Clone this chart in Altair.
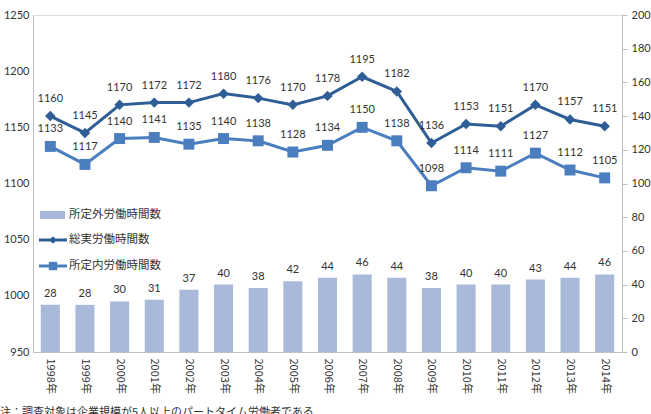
import altair as alt
import pandas as pd

years = [f"{y}年" for y in range(1998, 2015)]
total = [1160, 1145, 1170, 1172, 1172, 1180, 1176, 1170, 1178, 1195, 1182, 1136, 1153, 1151, 1170, 1157, 1151]
scheduled = [1133, 1117, 1140, 1141, 1135, 1140, 1138, 1128, 1134, 1150, 1138, 1098, 1114, 1111, 1127, 1112, 1105]
overtime = [28, 28, 30, 31, 37, 40, 38, 42, 44, 46, 44, 38, 40, 40, 43, 44, 46]

s_over = "所定外労働時間数"
s_total = "総実労働時間数"
s_sched = "所定内労働時間数"
note = "注：調査対象は企業規模が5人以上のパートタイム労働者である"

df = pd.DataFrame({"year": years, "total": total, "scheduled": scheduled, "overtime": overtime})

FONT = "Lato, Noto Sans CJK JP"
JP = "Noto Sans CJK JP"
BAR_C = "#A9B9DA"
TOT_C = "#2F5E97"
SCH_C = "#4A7EBF"
W, H = 589, 337

x = alt.X("year:N", sort=years, title=None,
          scale=alt.Scale(paddingInner=0.45, paddingOuter=0.225),
          axis=alt.Axis(labelAngle=90, labelFont=JP, labelFontSize=11, labelColor="#333",
                        domainColor="#BFBFBF", ticks=False, labelPadding=6, labelAlign="left",
                        labelBaseline="middle"))

yl = alt.Scale(domain=[950, 1250], nice=False, zero=False)
yr = alt.Scale(domain=[0, 200], nice=False)

left_axis = alt.Axis(values=list(range(950, 1251, 50)), format="d", grid=False, ticks=False, domainColor="#BFBFBF",
                     labelFont=FONT, labelFontSize=11, labelColor="#333", labelPadding=4, title=None,
                     orient="left")
right_axis = alt.Axis(values=list(range(0, 201, 20)), format="d", grid=False, orient="right", domainColor="#BFBFBF",
                      tickColor="#BFBFBF", tickSize=5, labelFont=FONT, labelFontSize=11, labelColor="#333",
                      labelPadding=4, title=None)

base = alt.Chart(df)

bars = base.mark_bar(color=BAR_C).encode(x=x, y=alt.Y("overtime:Q", scale=yr, axis=right_axis))
bar_lab = base.mark_text(dy=-11, font=FONT, fontSize=11, color="#333").encode(
    x=x, y=alt.Y("overtime:Q", scale=yr, axis=right_axis), text="overtime:Q")

tot_line = base.mark_line(color=TOT_C, strokeWidth=3).encode(
    x=x, y=alt.Y("total:Q", scale=yl, axis=left_axis))
tot_pts = base.mark_point(shape="diamond", filled=True, size=110, color=TOT_C, opacity=1).encode(
    x=x, y=alt.Y("total:Q", scale=yl, axis=left_axis))
tot_lab = base.mark_text(dy=-17, font=FONT, fontSize=11, color="#333").encode(
    x=x, y=alt.Y("total:Q", scale=yl, axis=left_axis), text="total:Q")

sch_line = base.mark_line(color=SCH_C, strokeWidth=3).encode(
    x=x, y=alt.Y("scheduled:Q", scale=yl, axis=left_axis))
sch_pts = base.mark_point(shape="square", filled=True, size=120, color=SCH_C, opacity=1).encode(
    x=x, y=alt.Y("scheduled:Q", scale=yl, axis=left_axis))
sch_lab = base.mark_text(dy=-17, font=FONT, fontSize=11, color="#333").encode(
    x=x, y=alt.Y("scheduled:Q", scale=yl, axis=left_axis), text="scheduled:Q")

# legend (drawn manually inside the plot area)
one = pd.DataFrame({"a": [0]})
ly = [200, 225, 251]
leg_bar = alt.Chart(one).mark_rect(color=BAR_C).encode(
    x=alt.value(7), x2=alt.value(32), y=alt.value(ly[0] - 4), y2=alt.value(ly[0] + 4))
leg_l1 = alt.Chart(one).mark_rule(color=TOT_C, strokeWidth=3).encode(
    x=alt.value(6), x2=alt.value(34), y=alt.value(ly[1]))
leg_p1 = alt.Chart(one).mark_point(shape="diamond", filled=True, size=55, color=TOT_C, opacity=1).encode(
    x=alt.value(20), y=alt.value(ly[1]))
leg_l2 = alt.Chart(one).mark_rule(color=SCH_C, strokeWidth=3).encode(
    x=alt.value(6), x2=alt.value(34), y=alt.value(ly[2]))
leg_p2 = alt.Chart(one).mark_point(shape="square", filled=True, size=70, color=SCH_C, opacity=1).encode(
    x=alt.value(20), y=alt.value(ly[2]))
leg_txts = [
    alt.Chart(pd.DataFrame({"t": [lab]})).mark_text(align="left", baseline="middle", font=JP,
                                                  fontSize=11.5, color="#333").encode(
        x=alt.value(36), y=alt.value(yy), text="t:N")
    for lab, yy in zip([s_over, s_total, s_sched], ly)
]

note_t = alt.Chart(pd.DataFrame({"t": [note]})).mark_text(align="left", baseline="top", font=JP, fontSize=11, color="#333").encode(
    x=alt.value(-33), y=alt.value(392), text="t:N")

left_layer = alt.layer(tot_line, sch_line, tot_pts, sch_pts, tot_lab, sch_lab)
right_layer = alt.layer(bars, bar_lab)

chart = alt.layer(right_layer, left_layer, leg_bar, leg_l1, leg_p1, leg_l2, leg_p2, *leg_txts, note_t).resolve_scale(
    y="independent"
).properties(
    width=W, height=H, autosize=alt.AutoSizeParams(type="none"),
    padding={"left": 33, "top": 15, "right": 29, "bottom": 62}
).configure_view(stroke=None).configure(background="white")

chart.save("out.html", embed_options={"renderer": "svg", "actions": False})
